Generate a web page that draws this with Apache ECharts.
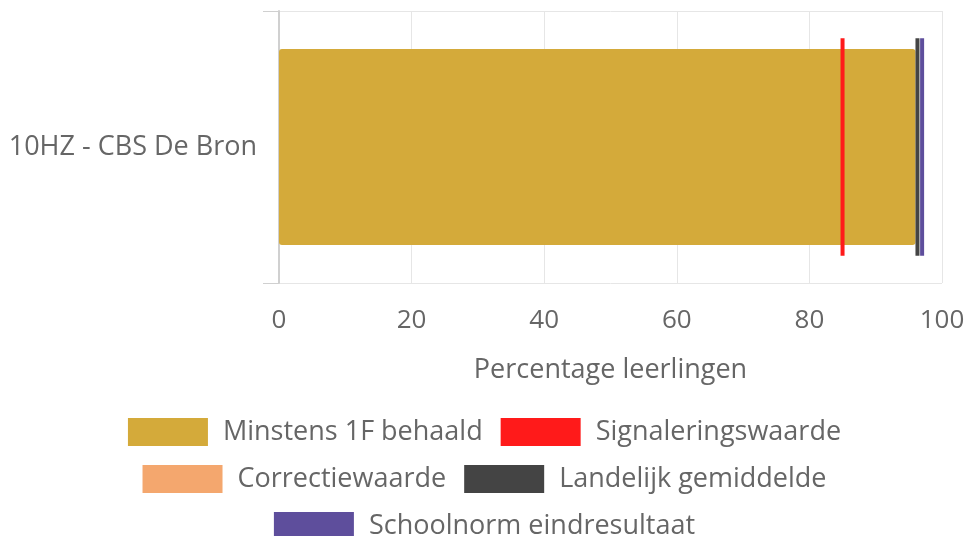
<!DOCTYPE html>
<html>
<head>
<meta charset="utf-8">
<script src="https://cdn.jsdelivr.net/npm/echarts@6/dist/echarts.min.js"></script>
<style>html,body{margin:0;padding:0;background:#fff}#c{width:969px;height:536px}</style>
</head>
<body>
<div id="c"></div>
<script>
var categories = ['10HZ - CBS De Bron'];
var behaald = [96];
var signalering = [85];
var correctie = [];
var landelijk = [96.3];
var schoolnorm = [97];
var xTicks = [0, 20, 40, 60, 80, 100];

var FONT = '"Open Sans", "Noto Sans", sans-serif';
var TXT = '#666';
var colors = {
  behaald: '#D4AA3A',
  signalering: '#FF1A1A',
  correctie: '#F4A76E',
  landelijk: '#444444',
  schoolnorm: '#5E4E9C'
};

function lineSeries(name, values, color) {
  return {
    name: name,
    type: 'custom',
    itemStyle: { color: color },
    encode: { x: 0, y: 1 },
    data: values.map(function (v, i) { return [v, categories[i]]; }),
    renderItem: function (params, api) {
      var p = api.coord([api.value(0), api.value(1)]);
      var band = api.size([0, 1])[1];
      return {
        type: 'line',
        shape: { x1: p[0], y1: p[1] - band * 0.4, x2: p[0], y2: p[1] + band * 0.4 },
        style: { stroke: color, lineWidth: 4 }
      };
    },
    z: 5
  };
}

var legendCommon = {
  left: 'center', orient: 'horizontal', itemWidth: 80, itemHeight: 28, itemGap: 18,
  icon: 'rect',
  textStyle: { color: TXT, fontSize: 27, fontFamily: FONT, padding: [0, 0, 0, 10] },
  selectedMode: false
};

var chart = echarts.init(document.getElementById('c'));
chart.setOption({
  animation: false,
  textStyle: { fontFamily: FONT },
  grid: { left: 279, right: 27, top: 11, bottom: 253, containLabel: false },
  legend: [
    Object.assign({}, legendCommon, { top: 413, data: ['Minstens 1F behaald', 'Signaleringswaarde'] }),
    Object.assign({}, legendCommon, { top: 460, data: ['Correctiewaarde', 'Landelijk gemiddelde'] }),
    Object.assign({}, legendCommon, { top: 507, data: ['Schoolnorm eindresultaat'] })
  ],
  xAxis: {
    type: 'value', min: xTicks[0], max: xTicks[xTicks.length - 1], interval: 20,
    name: 'Percentage leerlingen', nameLocation: 'middle', nameGap: 74,
    nameTextStyle: { color: TXT, fontSize: 27, fontFamily: FONT },
    axisLine: { show: false }, axisTick: { show: false },
    axisLabel: { color: TXT, fontSize: 26, fontFamily: FONT, margin: 25 },
    splitLine: { show: true, lineStyle: { color: '#e6e6e6', width: 1 } }
  },
  yAxis: {
    type: 'category', data: categories, inverse: true,
    axisLine: { show: true, lineStyle: { color: '#d0d0d0', width: 2 } },
    axisTick: { show: true, length: 16, lineStyle: { color: '#d0d0d0' } },
    axisLabel: { color: TXT, fontSize: 27, fontFamily: FONT, margin: 22 },
    splitLine: { show: true, lineStyle: { color: '#e6e6e6', width: 1 } }
  },
  series: [
    {
      name: 'Minstens 1F behaald', type: 'bar', data: behaald, barWidth: '72%',
      itemStyle: { color: colors.behaald, borderRadius: 3 }, z: 2
    },
    lineSeries('Signaleringswaarde', signalering, colors.signalering),
    lineSeries('Correctiewaarde', correctie, colors.correctie),
    lineSeries('Landelijk gemiddelde', landelijk, colors.landelijk),
    lineSeries('Schoolnorm eindresultaat', schoolnorm, colors.schoolnorm)
  ]
});
</script>
</body>
</html>
